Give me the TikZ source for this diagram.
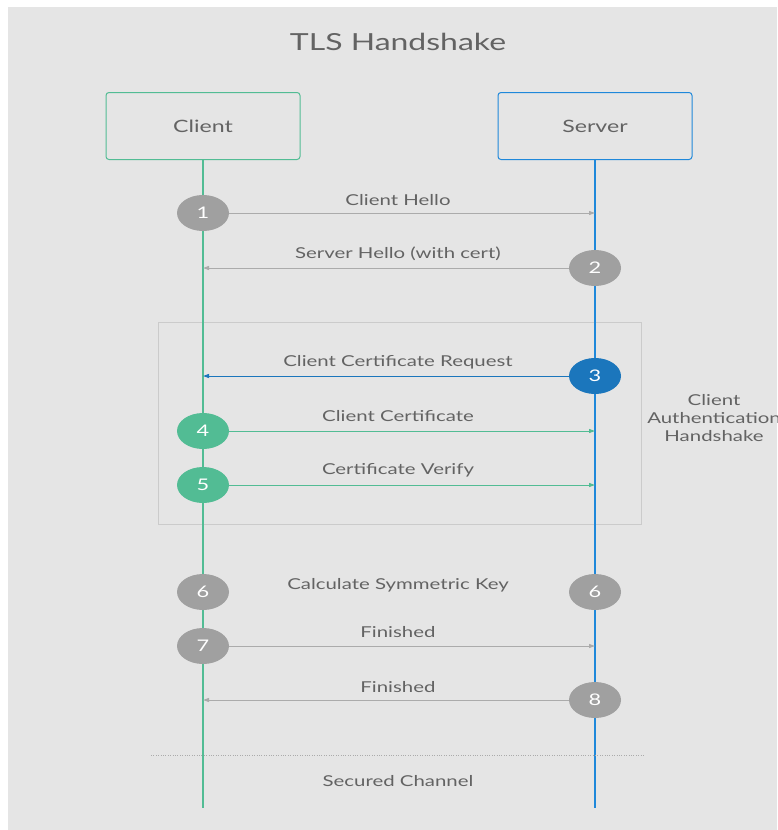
\documentclass[tikz,border=0pt]{standalone}
\usepackage{fontspec}
\setmainfont[FakeStretch=1.36]{Lato}
\usetikzlibrary{arrows.meta,positioning,shapes.geometric}
\definecolor{bggrey}{HTML}{E5E5E5}
\definecolor{txtgrey}{HTML}{636363}
\definecolor{dotgrey}{HTML}{A0A0A0}
\definecolor{linegrey}{HTML}{ABABAB}
\definecolor{framegrey}{HTML}{CBCBCB}
\definecolor{cligreen}{HTML}{52BC94}
\definecolor{srvblue}{HTML}{1F88DA}
\definecolor{stepblue}{HTML}{1B76BC}

\begin{document}
\begin{tikzpicture}[x=1pt, y=-1pt,
  actor/.style={draw, rounded corners=3pt, line width=1pt, minimum width=194pt, minimum height=67pt, text=txtgrey, font=\fontsize{17}{20}\selectfont},
  num/.style={ellipse, fill=dotgrey, text=white, minimum width=52pt, minimum height=36pt, inner sep=0pt, font=\fontsize{16}{18}\selectfont},
  msg/.style={draw=linegrey, line width=1pt, -{Triangle[length=6pt,width=4pt]}},
  lbl/.style={text=txtgrey, font=\fontsize{15}{18}\selectfont}]

  % background
  \fill[white] (0,0) rectangle (777,830);
  \fill[bggrey] (8,7) rectangle (777,830);
  \useasboundingbox (0,0) rectangle (777,830);

  \node (title) [text=txtgrey, font=\fontsize{23.5}{26}\selectfont] at (398,42) {TLS Handshake};

  \node (client) [actor, draw=cligreen] at (203,126) {Client};
  \node (server) [actor, draw=srvblue] at (595,126) {Server};
  \coordinate (clientend) at (203,808);
  \coordinate (serverend) at (595,808);

  % client authentication part
  \draw[framegrey, line width=1pt] (158,322) rectangle (641,524);
  \node (authlbl) [lbl, align=center] at (714,418) {Client\\Authentication\\Handshake};

  % lifelines
  \draw[cligreen, line width=1.2pt] (client) -- (clientend);
  \draw[srvblue, line width=1.2pt] (server) -- (serverend);

  % steps
  \node (s1) [num] at (203,213) {1};
  \node (s2) [num] at (595,268) {2};
  \node (s3) [num, fill=stepblue] at (595,376) {3};
  \node (s4) [num, fill=cligreen] at (203,431) {4};
  \node (s5) [num, fill=cligreen] at (203,485) {5};
  \node (s6c) [num] at (203,592) {6};
  \node (s6s) [num] at (595,592) {6};
  \node (s7) [num] at (203,646) {7};
  \node (s8) [num] at (595,700) {8};

  \draw[msg] (s1) -- (s1 -| server);
  \draw[msg] (s2) -- (s2 -| client);
  \draw[msg, draw=stepblue] (s3) -- (s3 -| client);
  \draw[msg, draw=cligreen] (s4) -- (s4 -| server);
  \draw[msg, draw=cligreen] (s5) -- (s5 -| server);
  \draw[msg] (s7) -- (s7 -| server);
  \draw[msg] (s8) -- (s8 -| client);

  \node (m1) [lbl] at (398,200) {Client Hello};
  \node (m2) [lbl] at (398,254) {Server Hello (with cert)};
  \node (m3) [lbl] at (398,362) {Client Certificate Request};
  \node (m4) [lbl] at (398,416) {Client Certificate};
  \node (m5) [lbl] at (398,470) {Certificate Verify};
  \node (m6) [lbl] at (398,585) {Calculate Symmetric Key};
  \node (m7) [lbl] at (398,632) {Finished};
  \node (m8) [lbl] at (398,687) {Finished};

  % secured channel
  \coordinate (sepl) at (151,755);
  \coordinate (sepr) at (645,755);
  \draw[linegrey, dotted] (sepl) -- (sepr);
  \node (secured) [lbl] at (398,781) {Secured Channel};
\end{tikzpicture}
\end{document}
